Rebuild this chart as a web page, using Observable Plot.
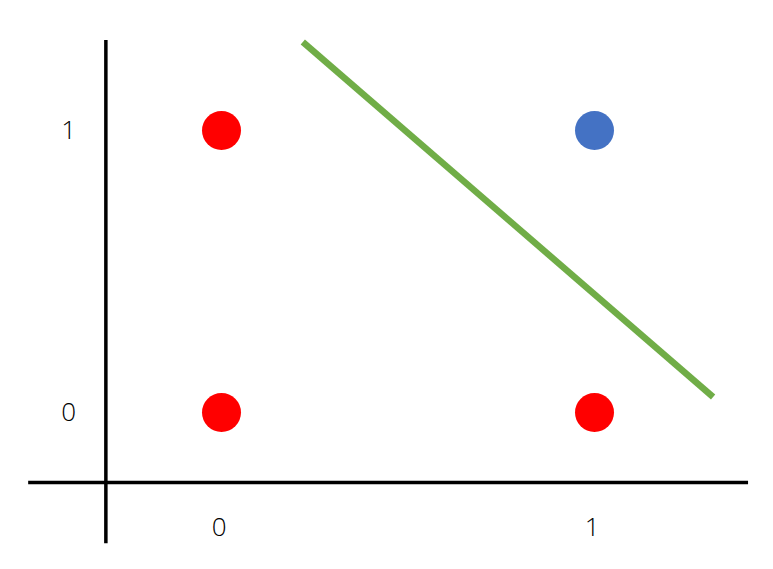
<!DOCTYPE html>
<html>
<head>
<meta charset="utf-8">
<script src="https://cdn.jsdelivr.net/npm/d3@7"></script>
<script src="https://cdn.jsdelivr.net/npm/@observablehq/plot@0.6"></script>
<style>
html,body{margin:0;padding:0;background:#fff;}
#chart svg{display:block;}
</style>
</head>
<body>
<div id="chart"></div>
<script>
// AND gate points
const px = [0, 0, 1, 1];
const py = [0, 1, 0, 1];
const cls = ["0", "0", "0", "1"];
// decision boundary line endpoints (data space)
const lineX = [0.218, 1.318];
const lineY = [1.314, 0.055];
// axis lines (data space)
const vAxisX = -0.31, vAxisY = [-0.465, 1.319];
const hAxisY = -0.248, hAxisX = [-0.517, 1.413];
// tick labels
const xTicks = [0, 1];
const yTicks = [0, 1];
const xTickY = -0.41;
const yTickX = -0.41;

const points = px.map((x, i) => ({x, y: py[i], c: cls[i]}));
const line = lineX.map((x, i) => ({x, y: lineY[i]}));

const chart = Plot.plot({
  width: 773,
  height: 569,
  margin: 0,
  x: {domain: [0, 1], range: [221, 594], axis: null},
  y: {domain: [0, 1], range: [412, 130], axis: null},
  color: {domain: ["0", "1"], range: ["#ff0000", "#4472c4"]},
  style: {fontFamily: "'Open Sans', 'Noto Sans', sans-serif", background: "#fff"},
  marks: [
    Plot.ruleX([vAxisX], {y1: vAxisY[0], y2: vAxisY[1], stroke: "#000", strokeWidth: 3.5}),
    Plot.ruleY([hAxisY], {x1: hAxisX[0], x2: hAxisX[1], stroke: "#000", strokeWidth: 3.5}),
    Plot.line(line, {x: "x", y: "y", stroke: "#70ad47", strokeWidth: 6.5, strokeLinecap: "butt"}),
    Plot.dot(points, {x: "x", y: "y", r: 19.5, fill: "c", stroke: null}),
    Plot.text(xTicks, {x: d => d - 0.006, y: () => xTickY, text: d => String(d), fontSize: 26, fontWeight: 300, fill: "#000"}),
    Plot.text(yTicks, {x: () => yTickX, y: d => d, text: d => String(d), fontSize: 26, fontWeight: 300, fill: "#000"})
  ]
});
document.getElementById("chart").appendChild(chart);
</script>
</body>
</html>
